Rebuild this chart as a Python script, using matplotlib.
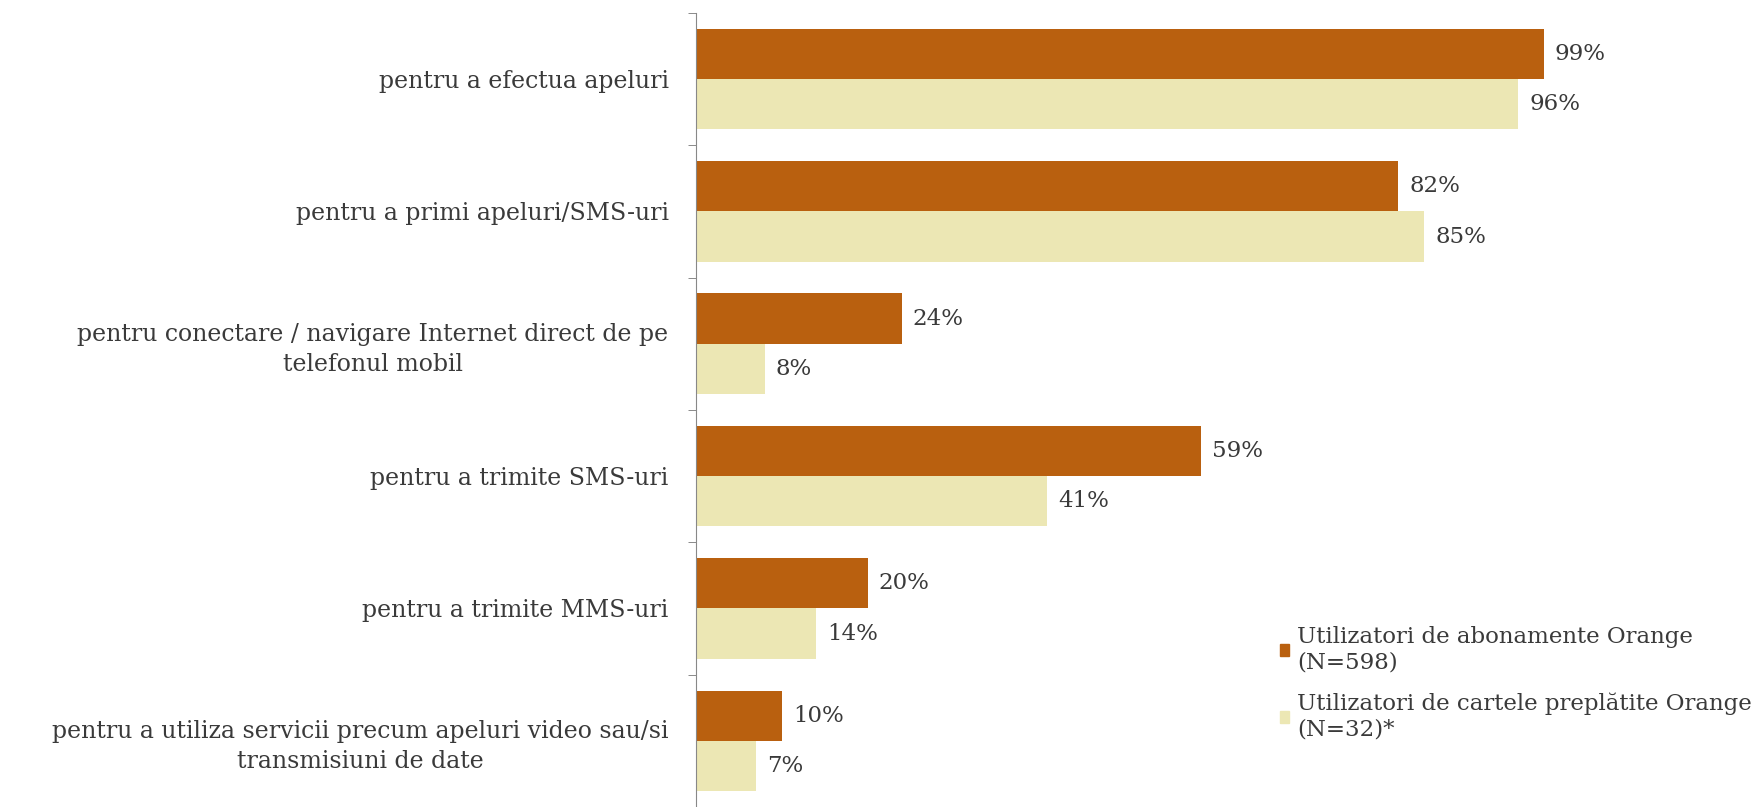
import numpy as np
import matplotlib.pyplot as plt
from matplotlib.patches import Patch

plt.rcParams['font.family'] = ['DejaVu Serif']

categorii = [
    "pentru a efectua apeluri",
    "pentru a primi apeluri/SMS-uri",
    "pentru conectare / navigare Internet direct de pe\ntelefonul mobil",
    "pentru a trimite SMS-uri",
    "pentru a trimite MMS-uri",
    "pentru a utiliza servicii precum apeluri video sau/si\ntransmisiuni de date",
]
abonamente = [99, 82, 24, 59, 20, 10]
cartele = [96, 85, 8, 41, 14, 7]
serii = ["Utilizatori de abonamente Orange\n(N=598)",
         "Utilizatori de cartele preplătite Orange\n(N=32)*"]

c_dark = "#B9600F"
c_light = "#ECE7B4"
txt = "#3a3a3a"

fig = plt.figure(figsize=(17.54, 8.07), dpi=100)
ax = fig.add_axes([0.397, 0.0, 0.488, 0.984])

y = np.arange(len(categorii)) + 0.5
h = 0.38
ax.barh(y - h / 2, abonamente, height=h, color=c_dark, label=serii[0])
ax.barh(y + h / 2, cartele, height=h, color=c_light, label=serii[1])

for yi, a, c in zip(y, abonamente, cartele):
    ax.text(a + 1.3, yi - h / 2, f"{a}%", va="center", ha="left", fontsize=16.5, color=txt)
    ax.text(c + 1.3, yi + h / 2, f"{c}%", va="center", ha="left", fontsize=16.5, color=txt)

ax.set_xlim(0, 100)
ax.set_ylim(len(categorii), 0)
ax.set_yticks(y)
ax.set_yticklabels(categorii, fontsize=17, color=txt, multialignment="center",
                   linespacing=1.35)
ax.set_yticks(np.arange(len(categorii) + 1), minor=True)
ax.tick_params(axis="y", which="major", length=0, pad=20)
ax.tick_params(axis="y", which="minor", length=6, color="#777777")
ax.set_xticks([])
for s in ["top", "right", "bottom"]:
    ax.spines[s].set_visible(False)
ax.spines["left"].set_color("#888888")

handles = [Patch(color=c_dark), Patch(color=c_light)]
fig.legend(handles, serii, loc="upper left", bbox_to_anchor=(0.718, 0.25),
           frameon=False, fontsize=16.5, handlelength=0.4, handleheight=0.4,
           handletextpad=0.35, labelspacing=0.85, labelcolor=txt)

fig.savefig("out.png", dpi=100)
